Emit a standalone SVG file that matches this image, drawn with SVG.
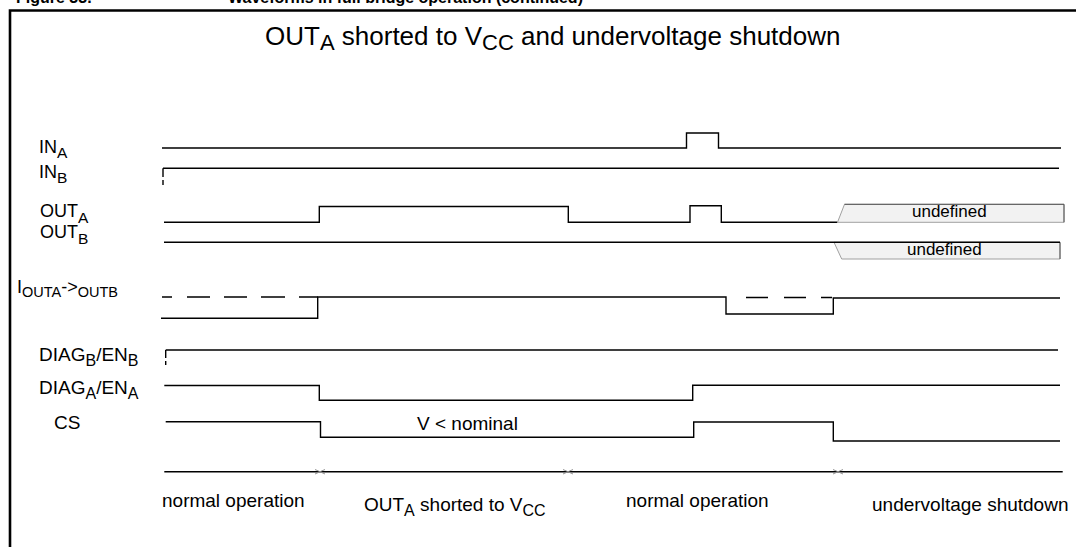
<svg xmlns="http://www.w3.org/2000/svg" width="1076" height="547" viewBox="0 0 1076 547">
<style>
text{font-family:"Liberation Sans",Arial,Helvetica,sans-serif;fill:#000}
.sig{fill:none;stroke:#000;stroke-width:1.4}
.lbl{font-size:18px}
.sub{font-size:15.5px}
.ph{font-size:19px}
.phs{font-size:16px}
.tick{fill:none;stroke:#8a8a8a;stroke-width:0.9}
.und{fill:#f2f2f2;stroke:#a0a0a0;stroke-width:1}
.ut{font-size:17px}
.hdr{font-size:16px;font-weight:bold}
</style>
<rect width="1076" height="547" fill="#fff"/>
<g id="frame">
<path d="M10,547 V10.5 H1076" fill="none" stroke="#000" stroke-width="2.6"/>
<text class="hdr" x="16" y="2.5">Figure 33.</text>
<text class="hdr" x="228" y="2.5">Waveforms in full bridge operation (continued)</text>
</g>
<g id="title">
<text x="265" y="45" font-size="26">OUT<tspan font-size="22" dy="5">A</tspan><tspan dy="-5"> shorted to V</tspan><tspan font-size="22" dy="5">CC</tspan><tspan dy="-5"> and undervoltage shutdown</tspan></text>
</g>
<g id="INA">
<text class="lbl" x="39" y="153">IN<tspan class="sub" dy="5">A</tspan></text>
<path class="sig" d="M162,148 H686.5 V133 H718.5 V148 H1061"/>
</g>
<g id="INB">
<text class="lbl" x="39" y="178">IN<tspan class="sub" dy="5">B</tspan></text>
<path class="sig" d="M163,168.3 H1059 M163,168.3 V177 M163,180 V185"/>
</g>
<g id="OUTA">
<text class="lbl" x="40" y="217">OUT<tspan class="sub" dy="6">A</tspan></text>
<path class="sig" d="M164,222.3 H319.3 V206.5 H568.3 V222.3 H690 V205.8 H721.3 V222.3 H837.5"/>
<polygon class="und" points="837.5,222.3 844.5,204.3 1064,204.3 1064,222.3"/>
<path d="M844.5,204.3 H1064 V222.3" fill="none" stroke="#555" stroke-width="1"/>
<text class="ut" x="912" y="217">undefined</text>
</g>
<g id="OUTB">
<text class="lbl" x="40" y="238">OUT<tspan class="sub" dy="6">B</tspan></text>
<polygon class="und" points="834,242.3 1060,242.3 1060,259 841.7,259"/>
<path d="M1060,242.3 V259" fill="none" stroke="#555" stroke-width="1"/>
<path class="sig" d="M164,242.3 H1060"/>
<text class="ut" x="907" y="254.5">undefined</text>
</g>
<g id="IOUT">
<text x="17" y="293" font-size="18">I<tspan font-size="14.5" dy="4">OUTA</tspan><tspan dy="-4">-&gt;</tspan><tspan font-size="14.5" dy="4">OUTB</tspan></text>
<path class="sig" d="M161,318.3 H317.7 V297 H726 V314 H833.3 V298 H1060"/>
<path class="sig" d="M162,297 H172 M187,297 H210 M224,297 H247 M261,297 H285 M299,297 H317.7 M746,297.5 H768 M784,297.5 H806 M821,297.5 H832"/>
</g>
<g id="DIAGB">
<text x="39" y="361" font-size="19">DIAG<tspan font-size="16" dy="5">B</tspan><tspan dy="-5">/EN</tspan><tspan font-size="16" dy="5">B</tspan></text>
<path class="sig" d="M165.7,350 H1058 M165.7,350 V358 M165.7,361 V365"/>
</g>
<g id="DIAGA">
<text x="39" y="394" font-size="19">DIAG<tspan font-size="16" dy="5">A</tspan><tspan dy="-5">/EN</tspan><tspan font-size="16" dy="5">A</tspan></text>
<path class="sig" d="M164.3,385.5 H319.3 V400.3 H692.7 V385.3 H1060"/>
</g>
<g id="CS">
<text x="54" y="429" font-size="19">CS</text>
<path class="sig" d="M165.7,421.7 H320.5 V437.3 H693.7 V422 H833.3 V441 H1060"/>
<text class="ph" x="417" y="430">V &lt; nominal</text>
</g>
<g id="connectors">
<path class="sig" d="M164.3,471.7 H1062.7"/>
<path class="tick" d="M315,469.5 L325,474 M315,474 L325,469.5 M563,469.5 L573,474 M563,474 L573,469.5 M833,469.5 L843,474 M833,474 L843,469.5"/>
</g>
<g id="phases">
<text class="ph" x="162" y="507">normal operation</text>
<text class="ph" x="364" y="511">OUT<tspan class="phs" dy="5">A</tspan><tspan dy="-5"> shorted to V</tspan><tspan class="phs" dy="5">CC</tspan></text>
<text class="ph" x="626" y="507">normal operation</text>
<text class="ph" x="872" y="511">undervoltage shutdown</text>
</g>
</svg>
